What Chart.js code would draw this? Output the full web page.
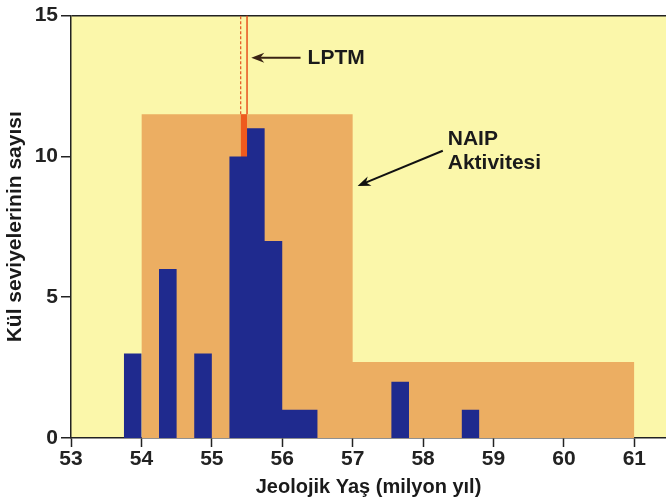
<!DOCTYPE html>
<html>
<head>
<meta charset="utf-8">
<script src="https://cdn.jsdelivr.net/npm/chart.js@4.4.0/dist/chart.umd.min.js"></script>
<style>
  html, body { margin: 0; padding: 0; background: #fff; }
  #wrap { width: 666px; height: 499px; }
</style>
</head>
<body>
<div id="wrap"><canvas id="chart"></canvas></div>
<script>
// Histogram of ash levels (bin start in Ma, count)
const binStarts = [53.75, 54.25, 54.75, 55.25, 55.5, 55.75, 56.0, 56.25, 57.55, 58.55];
const binCounts = [3, 6, 3, 10, 11, 7, 1, 1, 2, 1];
const binWidth = 0.25;

// NAIP activity band: edges and level between each pair of edges
const naipEdges = [54, 57, 61];
const naipLevels = [11.5, 2.7];

// LPTM strip
const lptmRange = [55.41, 55.5];
const lptmFillTop = 11.5;
const lptmTop = 15;

// Axis ticks
const xTicks = [53, 54, 55, 56, 57, 58, 59, 60, 61];
const yTicks = [0, 5, 10, 15];

const FONT = '"Liberation Sans", Arial, Helvetica, sans-serif';

// Build step outlines from the arrays above
function histPoints(starts, counts, w) {
    const pts = [];
    starts.forEach(function(s, i) {
        pts.push({x: s, y: 0}, {x: s, y: counts[i]}, {x: s + w, y: counts[i]}, {x: s + w, y: 0});
    });
    return pts;
}

function bandPoints(edges, levels) {
    const pts = [];
    levels.forEach(function(l, i) {
        pts.push({x: edges[i], y: l}, {x: edges[i + 1], y: l});
    });
    return pts;
}

// Background of the plot area
const plotBackground = {
    id: 'plotBackground',
    beforeDraw(chart) {
        const {ctx, chartArea: a} = chart;
        ctx.save();
        ctx.fillStyle = '#fff';
        ctx.fillRect(0, 0, chart.width, chart.height);
        ctx.fillStyle = '#fbf7aa';
        ctx.fillRect(a.left, a.top, a.right - a.left, a.bottom - a.top);
        ctx.restore();
    }
};

function arrow(ctx, x1, y1, x2, y2, color) {
    const ang = Math.atan2(y2 - y1, x2 - x1);
    const c = Math.cos(ang), s = Math.sin(ang);
    ctx.strokeStyle = color;
    ctx.fillStyle = color;
    ctx.lineWidth = 2;
    ctx.beginPath();
    ctx.moveTo(x1, y1);
    ctx.lineTo(x2 - 8 * c, y2 - 8 * s);
    ctx.stroke();
    ctx.beginPath();
    ctx.moveTo(x2, y2);
    ctx.lineTo(x2 - 13 * c + 5 * s, y2 - 13 * s - 5 * c);
    ctx.lineTo(x2 - 9 * c, y2 - 9 * s);
    ctx.lineTo(x2 - 13 * c - 5 * s, y2 - 13 * s + 5 * c);
    ctx.closePath();
    ctx.fill();
}

// Labels and arrows, placed in data units
const annotations = {
    id: 'annotations',
    afterDatasetsDraw(chart) {
        const {ctx, scales: {x, y}} = chart;
        ctx.save();
        arrow(ctx, x.getPixelForValue(56.26), y.getPixelForValue(13.5),
              x.getPixelForValue(55.56), y.getPixelForValue(13.5), '#3a2414');
        arrow(ctx, x.getPixelForValue(58.28), y.getPixelForValue(10.2),
              x.getPixelForValue(57.07), y.getPixelForValue(8.95), '#111');
        ctx.fillStyle = '#1a1a1a';
        ctx.font = 'bold 21px ' + FONT;
        ctx.textBaseline = 'middle';
        ctx.textAlign = 'left';
        ctx.fillText('LPTM', x.getPixelForValue(56.36), y.getPixelForValue(13.5));
        ctx.fillText('NAIP', x.getPixelForValue(58.35), y.getPixelForValue(10.6));
        ctx.fillText('Aktivitesi', x.getPixelForValue(58.35), y.getPixelForValue(9.75));
        ctx.restore();
    }
};

const ctx = document.getElementById('chart').getContext('2d');
new Chart(ctx, {
    type: 'scatter',
    data: {
        datasets: [
            {
                // LPTM outline, right edge solid
                data: [{x: lptmRange[1], y: lptmFillTop}, {x: lptmRange[1], y: lptmTop}],
                showLine: true, borderColor: '#e8501e', borderWidth: 1.5,
                pointRadius: 0, fill: false, order: 0
            },
            {
                // LPTM outline, left edge dashed
                data: [{x: lptmRange[0], y: lptmFillTop}, {x: lptmRange[0], y: lptmTop}],
                showLine: true, borderColor: '#e8501e', borderWidth: 1.2, borderDash: [3, 2],
                pointRadius: 0, fill: false, order: 0
            },
            {
                // ash level histogram
                data: histPoints(binStarts, binCounts, binWidth),
                showLine: true, borderWidth: 0, borderColor: 'rgba(0,0,0,0)',
                backgroundColor: '#1f2a8e', fill: 'origin',
                pointRadius: 0, tension: 0, order: 1
            },
            {
                // LPTM filled part
                data: bandPoints(lptmRange, [lptmFillTop]),
                showLine: true, borderWidth: 0, borderColor: 'rgba(0,0,0,0)',
                backgroundColor: '#ee5a1e', fill: 'origin',
                pointRadius: 0, order: 2
            },
            {
                // NAIP activity
                data: bandPoints(naipEdges, naipLevels),
                showLine: true, borderWidth: 0, borderColor: 'rgba(0,0,0,0)',
                backgroundColor: '#ecae62', fill: 'origin',
                pointRadius: 0, order: 3
            }
        ]
    },
    options: {
        responsive: true,
        maintainAspectRatio: false,
        animation: false,
        layout: { padding: { top: 14, right: 0, left: 0, bottom: 0 } },
        plugins: {
            legend: { display: false },
            tooltip: { enabled: false }
        },
        scales: {
            x: {
                type: 'linear',
                min: 53,
                max: 61.45,
                afterBuildTicks: function(scale) {
                    scale.ticks = xTicks.map(function(v) { return {value: v}; });
                },
                afterFit: function(scale) { scale.height = 61; },
                grid: {
                    drawOnChartArea: false,
                    tickLength: 9,
                    tickColor: '#222',
                    tickWidth: 1.5
                },
                border: { color: '#222', width: 1.5 },
                ticks: {
                    color: '#222',
                    padding: 0,
                    font: { family: FONT, size: 21, weight: 'bold' }
                },
                title: {
                    display: true,
                    text: 'Jeolojik Yaş (milyon yıl)',
                    color: '#1a1a1a',
                    padding: { top: 0, bottom: 0 },
                    font: { family: FONT, size: 20, weight: 'bold' }
                }
            },
            y: {
                min: 0,
                max: 15,
                afterBuildTicks: function(scale) {
                    scale.ticks = yTicks.map(function(v) { return {value: v}; });
                },
                afterFit: function(scale) { scale.width = 71; },
                grid: {
                    color: function(c) { return c.tick && c.tick.value === 15 ? '#222' : 'rgba(0,0,0,0)'; },
                    lineWidth: 1.5,
                    tickColor: '#222',
                    tickLength: 10,
                    tickWidth: 1.5
                },
                border: { color: '#222', width: 1.5 },
                ticks: {
                    color: '#222',
                    padding: 3,
                    font: { family: FONT, size: 21, weight: 'bold' }
                },
                title: {
                    display: true,
                    text: 'Kül seviyelerinin sayısı',
                    color: '#1a1a1a',
                    padding: { top: 3, bottom: 0 },
                    font: { family: FONT, size: 21, weight: 'bold' }
                }
            }
        }
    },
    plugins: [plotBackground, annotations]
});
</script>
</body>
</html>
